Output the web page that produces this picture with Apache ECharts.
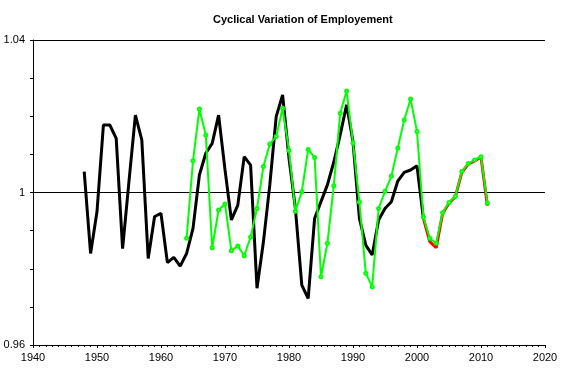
<!DOCTYPE html>
<html>
<head>
<meta charset="utf-8">
<script src="https://cdn.jsdelivr.net/npm/echarts@6/dist/echarts.min.js"></script>
<style>
html,body{margin:0;padding:0;background:#fff;}
#chart{width:564px;height:374px;}
</style>
</head>
<body>
<div id="chart"></div>
<script>
const blackYears = [1948,1949,1950,1951,1952,1953,1954,1955,1956,1957,1958,1959,1960,1961,1962,1963,1964,1965,1966,1967,1968,1969,1970,1971,1972,1973,1974,1975,1976,1977,1978,1979,1980,1981,1982,1983,1984,1985,1986,1987,1988,1989,1990,1991,1992,1993,1994,1995,1996,1997,1998,1999,2000,2001];
const blackValues = [1.0055,0.984,0.995,1.0177,1.0177,1.0142,0.9853,1.003,1.0203,1.0138,0.9827,0.9937,0.9945,0.9816,0.983,0.9807,0.984,0.9906,1.0046,1.0103,1.0129,1.0203,1.006,0.9928,0.9967,1.0094,1.0072,0.9749,0.987,1.002,1.0199,1.0256,1.009,0.9958,0.9757,0.9722,0.9932,0.9976,1.002,1.008,1.0151,1.023,1.0133,0.9932,0.9862,0.9836,0.9928,0.9958,0.9976,1.003,1.0053,1.0059,1.007,0.9932];

const greenYears = [1964,1965,1966,1967,1968,1969,1970,1971,1972,1973,1974,1975,1976,1977,1978,1979,1980,1981,1982,1983,1984,1985,1986,1987,1988,1989,1990,1991,1992,1993,1994,1995,1996,1997,1998,1999,2000,2001,2002,2003,2004,2005,2006,2007,2008,2009,2010,2011];
const greenValues = [0.988,1.0083,1.0219,1.0151,0.9855,0.9954,0.997,0.9847,0.986,0.9834,0.9883,0.9958,1.0068,1.0127,1.0147,1.0221,1.011,0.9951,1.0002,1.0113,1.0092,0.9779,0.9867,1.0018,1.0208,1.0266,1.013,0.9975,0.9788,0.9753,0.9958,1.0003,1.0043,1.0117,1.019,1.0245,1.016,0.9935,0.988,0.9867,0.9947,0.9974,0.999,1.0055,1.0076,1.0085,1.0094,0.9972];

const redYears = [2001,2002,2003,2004,2005,2006,2007,2008,2009,2010,2011];
const redValues = [0.9932,0.9871,0.9855,0.9945,0.9972,0.9989,1.0053,1.0074,1.0083,1.0093,0.9965];

const titleText = 'Cyclical Variation of Employement';

function pairs(xs, ys){ return xs.map((x,i)=>[x, ys[i]]); }

const font = '"Liberation Sans", Arial, sans-serif';
const chart = echarts.init(document.getElementById('chart'), null, {renderer:'canvas'});
chart.setOption({
  animation:false,
  backgroundColor:'#ffffff',
  title:{
    text:titleText, left:208, top:9,
    textStyle:{fontFamily:font, fontSize:11, fontWeight:'bold', color:'#000'}
  },
  grid:{left:33, right:19, top:40, bottom:29, containLabel:false},
  xAxis:{
    type:'value', min:1940, max:2020, interval:10,
    axisLine:{show:true, lineStyle:{color:'#000', width:1}},
    axisTick:{show:true, length:3, lineStyle:{color:'#000'}},
    minorTick:{show:true, splitNumber:10, length:2, lineStyle:{color:'#000'}},
    splitLine:{show:false},
    axisLabel:{color:'#000', fontFamily:font, fontSize:11, margin:7,
      formatter:function(v){ return String(v); }}
  },
  yAxis:{
    type:'value', min:0.96, max:1.04, interval:0.04,
    axisLine:{show:true, lineStyle:{color:'#000', width:1}},
    axisTick:{show:true, length:3, lineStyle:{color:'#000'}},
    minorTick:{show:true, splitNumber:4, length:3, lineStyle:{color:'#000'}},
    splitLine:{show:true, lineStyle:{color:'#000', width:1}},
    axisLabel:{color:'#000', fontFamily:font, fontSize:11, margin:8,
      formatter:function(v){ return String(Math.round(v*100)/100); }}
  },
  series:[
    {type:'line', data:pairs(blackYears, blackValues), showSymbol:false, symbol:'none',
     lineStyle:{color:'#000', width:3}, z:2},
    {type:'line', data:pairs(redYears, redValues), showSymbol:false, symbol:'none',
     lineStyle:{color:'#ff0000', width:3}, z:3},
    {type:'line', data:pairs(greenYears, greenValues), symbol:'emptyCircle', symbolSize:3,
     itemStyle:{color:'#00ff00', borderColor:'#00ff00', borderWidth:1},
     lineStyle:{color:'#00ff00', width:2}, z:4}
  ]
});
</script>
</body>
</html>
